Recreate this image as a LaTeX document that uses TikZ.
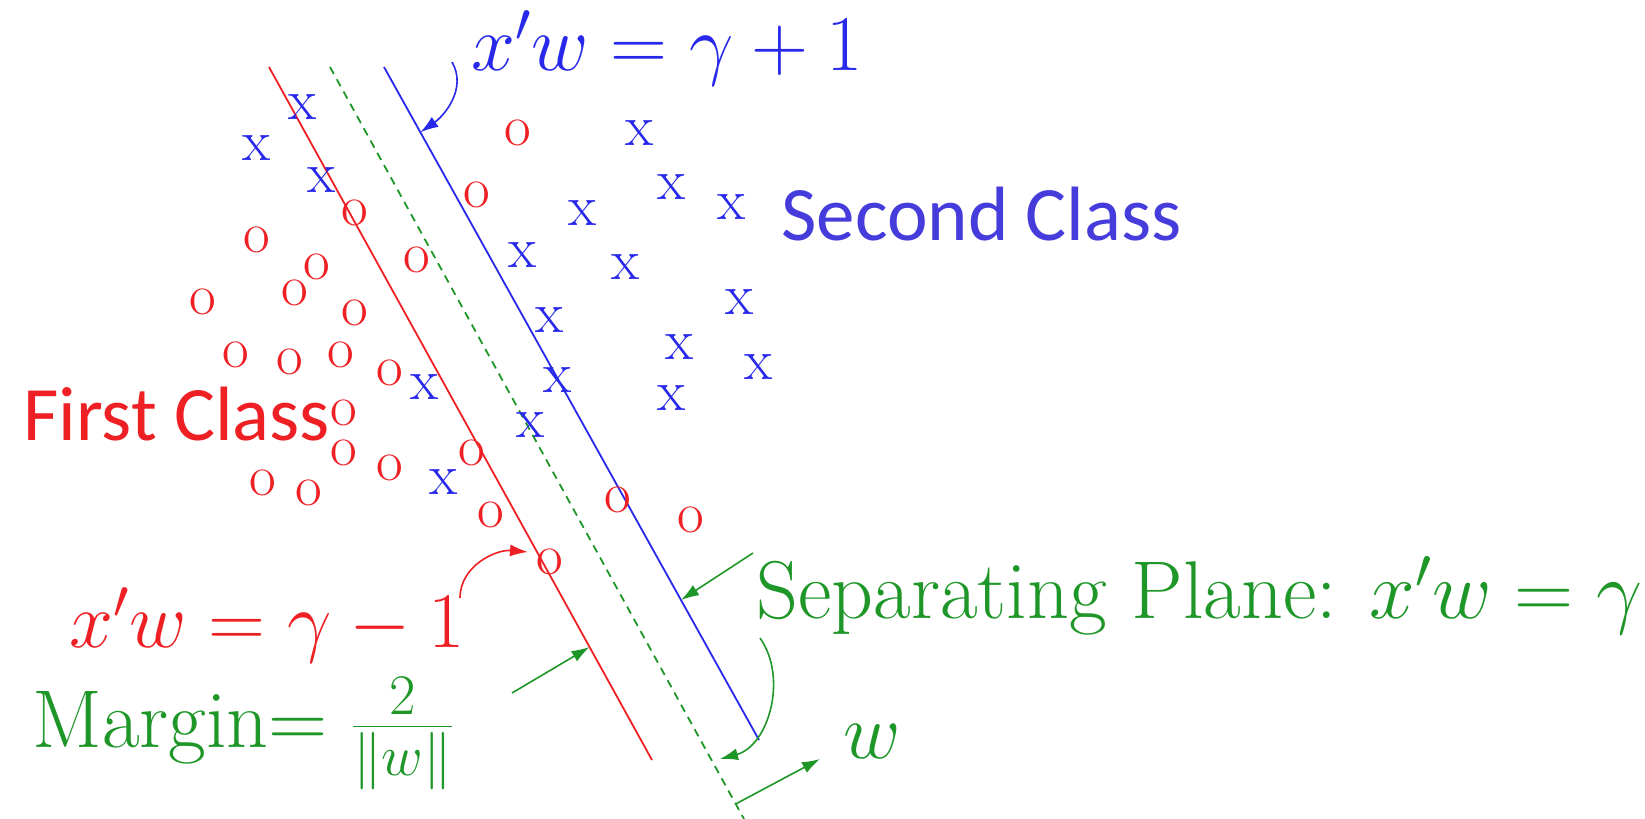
\documentclass[tikz,border=0pt]{standalone}
\usepackage{fix-cm}
\usepackage{fontspec}
\newfontfamily\classfont{Carlito}
\usetikzlibrary{positioning,arrows.meta,calc}
\definecolor{svmblue}{RGB}{40,40,235}
\definecolor{svmred}{RGB}{238,32,36}
\definecolor{svmgreen}{RGB}{30,150,40}
\definecolor{svmclass}{RGB}{70,60,220}
\tikzset{
  xpt/.style={text=svmblue, inner sep=0pt, font=\fontsize{29}{29}\selectfont},
  opt/.style={text=svmred, inner sep=0pt, font=\fontsize{29}{29}\selectfont},
  lbl/.style={anchor=base west, inner sep=0pt, font=\fontsize{39.5}{40}\selectfont},
  biglbl/.style={lbl, font=\fontsize{41}{41}\selectfont},
  cls/.style={anchor=base west, inner sep=0pt, font=\classfont\fontsize{38.5}{39}\selectfont},
  plane/.style={line width=0.9pt},
  arrow/.style={-{Latex[length=9pt,width=6pt]}, line width=0.8pt}
}

\begin{document}
\begin{tikzpicture}[x=0.5pt,y=-0.5pt]
    \useasboundingbox (0,0) rectangle (1645,819);
    % the two margin planes and the separating plane
    \coordinate (redA) at (269,67);
    \coordinate (redB) at (652,760);
    \coordinate (midA) at (330,67);
    \coordinate (midB) at (744,819);
    \coordinate (bluA) at (384,67);
    \coordinate (bluB) at (759,740);
    \draw[plane, svmred] (redA) -- (redB);
    \draw[plane, svmgreen, dash pattern=on 4pt off 3pt] (midA) -- (midB);
    \draw[plane, svmblue] (bluA) -- (bluB);
    % data points
    \foreach \px/\py [count=\i] in {303/107, 257/148, 322/180, 640/133, 672/187, 583/213,
        732/207, 523/255, 626/267, 740/302, 550/320, 680/347, 759/367, 558/380,
        425/387, 672/398, 531/425, 444/482}
      \node[xpt] (x\i) at (\px,\py) {x};
    \foreach \px/\py [count=\i] in {518/133, 477/195, 355/213, 257/240, 417/260, 317/267,
        295/293, 203/302, 355/313, 236/355, 290/362, 341/355, 390/373, 344/413,
        344/453, 390/468, 472/453, 263/483, 309/493, 618/500, 691/520, 491/515, 550/562}
      \node[opt] (o\i) at (\px,\py) {o};
    % labels
    \node[lbl, text=svmblue] (pluseq) at (471,70) {$x'w=\gamma+1$};
    \node[cls, text=svmclass] (second) at (781,240) {Second Class};
    \node[cls, text=svmred] (first) at (23,440) {First Class};
    \node[lbl, text=svmred] (minuseq) at (69,647) {$x'w=\gamma-1$};
    \node[biglbl, text=svmgreen] (margin) at (32,747) {Margin$=\frac{2}{\|w\|}$};
    \node[biglbl, text=svmgreen] (sepplane) at (756,618) {Separating Plane: $x'w=\gamma$};
    \node[lbl, text=svmgreen] (wlabel) at (843,758) {$w$};
    % arrows
    \coordinate (plusfrom) at (452,62);
    \coordinate (plusto) at ($(bluA)!0.097!(bluB)$);
    \coordinate (minusfrom) at (460,598);
    \coordinate (minusto) at (528,552);
    \coordinate (marginfrom) at (512,693);
    \coordinate (marginto) at ($(redA)!0.837!(redB)$);
    \coordinate (sepfrom) at (753,553);
    \coordinate (septo) at ($(bluA)!0.792!(bluB)$);
    \coordinate (bendfrom) at (760,638);
    \coordinate (bendto) at (720,759);
    \coordinate (wfrom) at ($(midA)!0.98!(midB)$);
    \coordinate (wto) at (820,759);
    \draw[arrow, svmblue] (plusfrom) to[out=-60,in=35] (plusto);
    \draw[arrow, svmred] (minusfrom) to[out=90,in=175] (minusto);
    \draw[arrow, svmgreen] (marginfrom) -- (marginto);
    \draw[arrow, svmgreen] (sepfrom) -- (septo);
    \draw[arrow, svmgreen] (bendfrom) to[out=-55,in=15] (bendto);
    \draw[arrow, svmgreen] (wfrom) -- (wto);
\end{tikzpicture}
\end{document}
